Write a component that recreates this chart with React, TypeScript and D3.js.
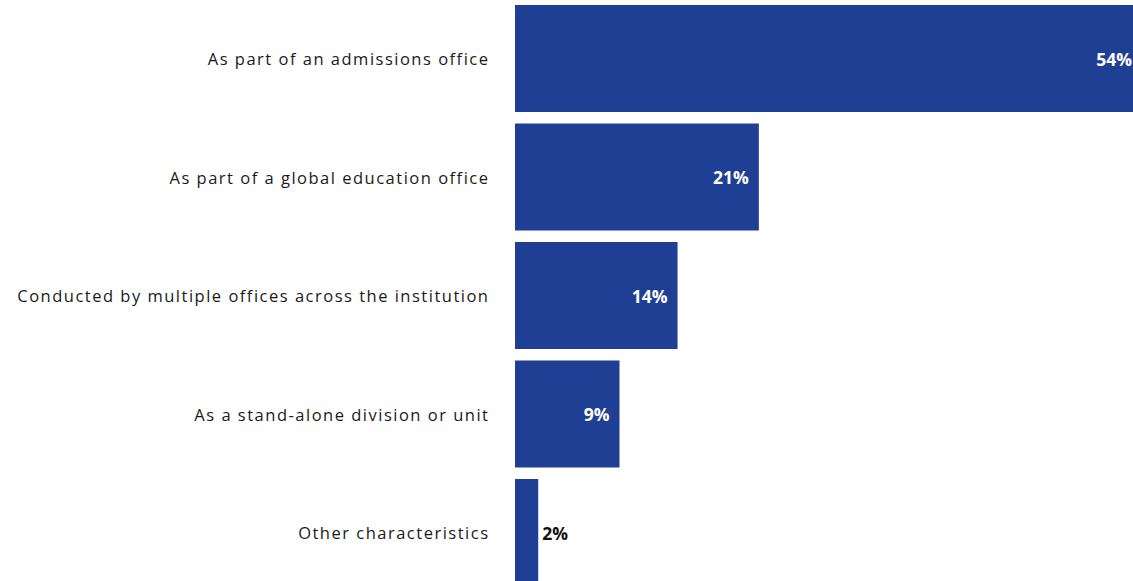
import React, { useEffect } from "react";
import * as d3 from "d3";

const categories = [
  "As part of an admissions office",
  "As part of a global education office",
  "Conducted by multiple offices across the institution",
  "As a stand-alone division or unit",
  "Other characteristics",
];
const values = [54, 21, 14, 9, 2];

const W = 1133;
const H = 581;
const BAR = "#1F3F94";

export default function App() {
  useEffect(() => {
    document.body.style.margin = "0";
  }, []);

  const x = d3.scaleLinear().domain([0, 54]).range([515, 1142]);
  const y = d3
    .scaleBand<string>()
    .domain(categories)
    .range([5, 586])
    .paddingInner(0.097)
    .paddingOuter(0);

  return (
    <svg width={W} height={H} style={{ display: "block", background: "#fff" }}>
      {categories.map((c, i) => {
        const v = values[i];
        const y0 = y(c)!;
        const bw = y.bandwidth();
        const xe = x(v);
        const inside = xe - x(0) > 50;
        return (
          <g key={c}>
            <rect x={x(0)} y={y0} width={xe - x(0)} height={bw} fill={BAR} />
            <text
              x={489.5}
              y={y0 + bw / 2 + 1}
              dy="0.35em"
              textAnchor="end"
              fontFamily="'Open Sans', sans-serif"
              fontSize={16.5}
              letterSpacing={1.5}
              fill="#1a1a1a"
            >
              {c}
            </text>
            <text
              x={inside ? xe - 10 : xe + 4}
              y={y0 + bw / 2 + 1}
              dy="0.35em"
              textAnchor={inside ? "end" : "start"}
              fontFamily="'Open Sans', sans-serif"
              fontWeight="bold"
              fontSize={17.5}
              fill={inside ? "#ffffff" : "#111111"}
            >
              {v}%
            </text>
          </g>
        );
      })}
    </svg>
  );
}
